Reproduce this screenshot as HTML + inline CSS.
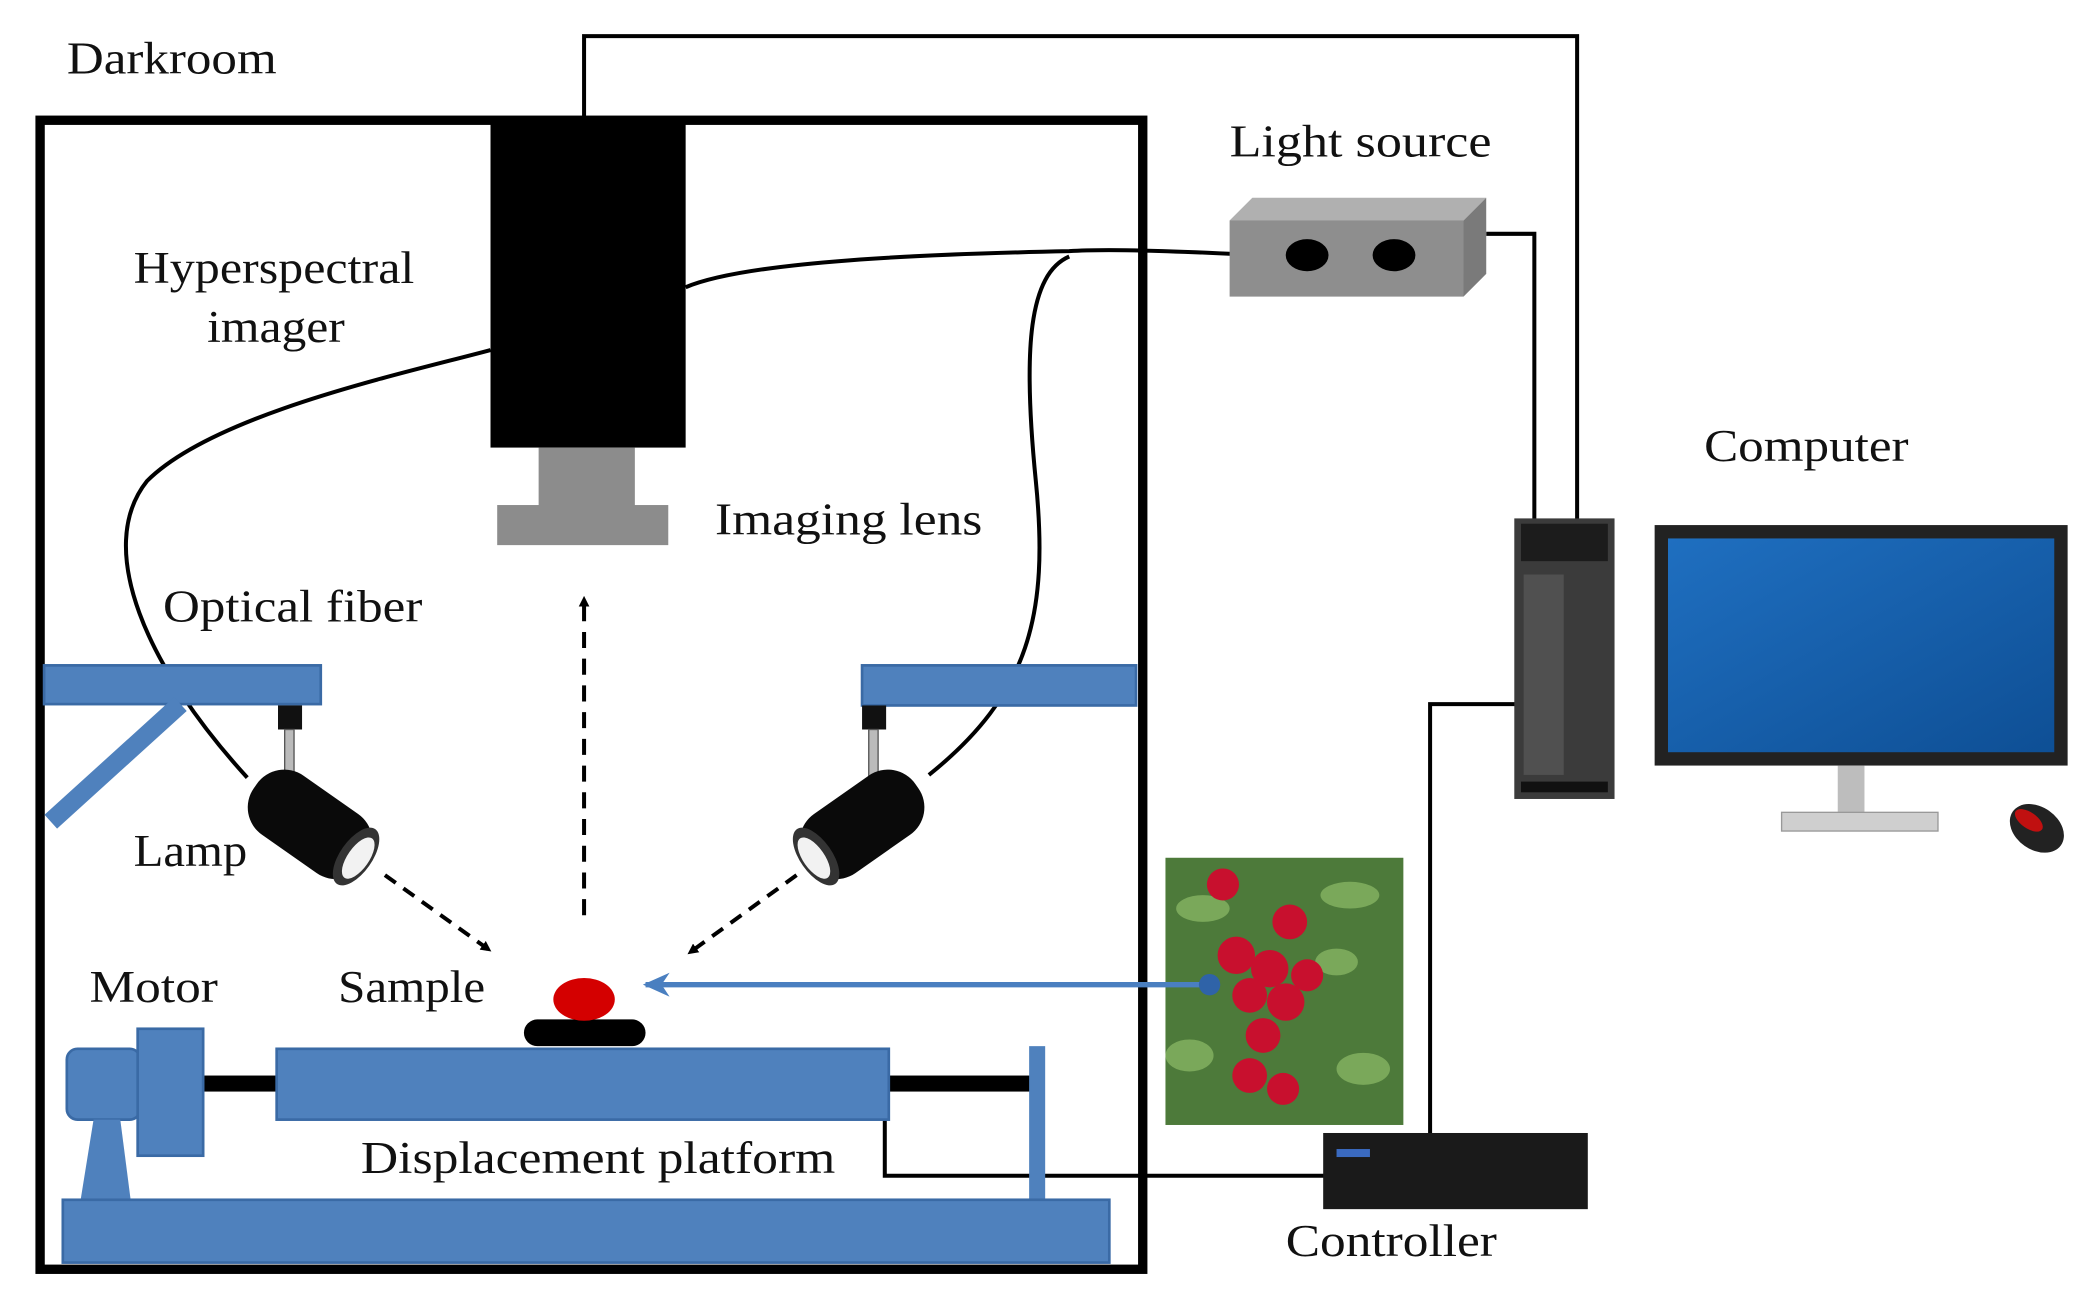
<!DOCTYPE html>
<html><head><meta charset="utf-8"><style>
html,body{margin:0;padding:0;background:#fff;}
svg{display:block;}
text{font-family:"Liberation Serif",serif;fill:#111;}
</style></head><body>
<svg width="2085" height="1300" viewBox="0 0 1560 973" preserveAspectRatio="none" xmlns="http://www.w3.org/2000/svg">
<defs>
<marker id="ah" markerWidth="8" markerHeight="8" refX="6" refY="4" orient="auto" markerUnits="userSpaceOnUse"><path d="M0,0 L8,4 L0,8 Z" fill="#000"/></marker>
<marker id="bh" markerWidth="22" markerHeight="18" refX="18" refY="9" orient="auto" markerUnits="userSpaceOnUse"><path d="M0,0 L20,9 L0,18 L6,9 Z" fill="#4a7fc0"/></marker>
<linearGradient id="scr" x1="0" y1="0" x2="1" y2="1"><stop offset="0" stop-color="#1f6fc0"/><stop offset="1" stop-color="#0e4f95"/></linearGradient>
</defs>
<rect width="1560" height="973" fill="#fff"/>
<text x="50" y="55" font-size="34" textLength="157" lengthAdjust="spacingAndGlyphs">Darkroom</text>
<rect x="30" y="90" width="825" height="860" fill="none" stroke="#000" stroke-width="7"/>
<path d="M437,90 V27 H1180 V390" fill="none" stroke="#000" stroke-width="3"/>
<path d="M1112,175 H1148 V390" fill="none" stroke="#000" stroke-width="3"/>
<path d="M1070,855 V527 H1135" fill="none" stroke="#000" stroke-width="3"/>
<path d="M662,838 V880 H992" fill="none" stroke="#000" stroke-width="3"/>
<path d="M922,190 C880,188 830,186 800,188 C700,190 560,195 513,215" fill="none" stroke="#000" stroke-width="3"/>
<path d="M367,262 C300,280 160,310 110,360 C70,410 110,500 185,582" fill="none" stroke="#000" stroke-width="3"/>
<path d="M800,192 C770,205 765,260 775,360 C785,460 770,520 695,580" fill="none" stroke="#000" stroke-width="3"/>
<rect x="367" y="88" width="146" height="247" fill="#000"/>
<rect x="403" y="335" width="72" height="45" fill="#8c8c8c"/>
<rect x="372" y="378" width="128" height="30" fill="#8c8c8c"/>
<polygon points="920,165 937,148 1112,148 1095,165" fill="#b0b0b0"/>
<polygon points="1095,165 1112,148 1112,205 1095,222" fill="#7a7a7a"/>
<rect x="920" y="165" width="175" height="57" fill="#8e8e8e"/>
<ellipse cx="978" cy="191" rx="16" ry="12" fill="#000"/>
<ellipse cx="1043" cy="191" rx="16" ry="12" fill="#000"/>
<text x="100" y="212" font-size="34" textLength="210" lengthAdjust="spacingAndGlyphs">Hyperspectral</text>
<text x="155" y="256" font-size="34" textLength="103" lengthAdjust="spacingAndGlyphs">imager</text>
<text x="535" y="400" font-size="34" textLength="200" lengthAdjust="spacingAndGlyphs">Imaging  lens</text>
<text x="122" y="465" font-size="34" textLength="194" lengthAdjust="spacingAndGlyphs">Optical fiber</text>
<text x="920" y="117" font-size="34" textLength="196" lengthAdjust="spacingAndGlyphs">Light  source</text>
<text x="1275" y="345" font-size="34" textLength="153" lengthAdjust="spacingAndGlyphs">Computer</text>
<text x="100" y="648" font-size="34" textLength="85" lengthAdjust="spacingAndGlyphs">Lamp</text>
<text x="67" y="750" font-size="34" textLength="96" lengthAdjust="spacingAndGlyphs">Motor</text>
<text x="253" y="750" font-size="34" textLength="110" lengthAdjust="spacingAndGlyphs">Sample</text>
<text x="270" y="878" font-size="34" textLength="355" lengthAdjust="spacingAndGlyphs">Displacement  platform</text>
<text x="962" y="940" font-size="34" textLength="158" lengthAdjust="spacingAndGlyphs">Controller</text>
<rect x="33" y="498" width="207" height="29" fill="#4f81bd" stroke="#3a6aa5" stroke-width="2"/>
<line x1="135" y1="527" x2="38" y2="615" stroke="#4f81bd" stroke-width="14"/>
<rect x="645" y="498" width="205" height="30" fill="#4f81bd" stroke="#3a6aa5" stroke-width="2"/>
<rect x="208" y="528" width="18" height="18" fill="#111"/>
<rect x="213" y="546" width="7" height="38" fill="#bbb" stroke="#555"/>
<rect x="645" y="528" width="18" height="18" fill="#111"/>
<rect x="650" y="546" width="7" height="38" fill="#bbb" stroke="#555"/>
<g transform="translate(232,617) rotate(35)">
<rect x="-50" y="-27" width="100" height="54" rx="25" fill="#0a0a0a"/>
<ellipse cx="42" cy="0" rx="12" ry="25" fill="#333"/>
<ellipse cx="44" cy="0" rx="8" ry="18" fill="#f2f2f2"/>
</g>
<g transform="translate(645,617) rotate(-35)">
<rect x="-50" y="-27" width="100" height="54" rx="25" fill="#0a0a0a"/>
<ellipse cx="-42" cy="0" rx="12" ry="25" fill="#333"/>
<ellipse cx="-44" cy="0" rx="8" ry="18" fill="#f2f2f2"/>
</g>
<line x1="288" y1="655" x2="366" y2="711" stroke="#000" stroke-width="3" stroke-dasharray="10,7" marker-end="url(#ah)"/>
<line x1="596" y1="655" x2="516" y2="713" stroke="#000" stroke-width="3" stroke-dasharray="10,7" marker-end="url(#ah)"/>
<line x1="437" y1="685" x2="437" y2="448" stroke="#000" stroke-width="3" stroke-dasharray="12,8" marker-end="url(#ah)"/>
<rect x="392" y="763" width="91" height="20" rx="10" fill="#000"/>
<ellipse cx="437" cy="748" rx="23" ry="16" fill="#d40000"/>
<rect x="150" y="805" width="625" height="12" fill="#000"/>
<rect x="207" y="785" width="458" height="53" fill="#4f81bd" stroke="#3a6aa5" stroke-width="2"/>
<rect x="770" y="783" width="12" height="117" fill="#4f81bd"/>
<rect x="50" y="785" width="55" height="53" rx="8" fill="#4f81bd" stroke="#3a6aa5" stroke-width="2"/>
<rect x="103" y="770" width="49" height="95" fill="#4f81bd" stroke="#3a6aa5" stroke-width="2"/>
<polygon points="70,838 90,838 98,900 60,900" fill="#4f81bd"/>
<rect x="47" y="898" width="783" height="47" fill="#4f81bd" stroke="#3a6aa5" stroke-width="2"/>
<rect x="872" y="642" width="178" height="200" fill="#4d7a3a"/>
<g fill="#7aa85a"><ellipse cx="900" cy="680" rx="20" ry="10"/><ellipse cx="1010" cy="670" rx="22" ry="10"/><ellipse cx="890" cy="790" rx="18" ry="12"/><ellipse cx="1020" cy="800" rx="20" ry="12"/><ellipse cx="1000" cy="720" rx="16" ry="10"/></g>
<g fill="#c8102e"><circle cx="915" cy="662" r="12"/><circle cx="965" cy="690" r="13"/><circle cx="925" cy="715" r="14"/><circle cx="950" cy="725" r="14"/><circle cx="978" cy="730" r="12"/><circle cx="935" cy="745" r="13"/><circle cx="962" cy="750" r="14"/><circle cx="945" cy="775" r="13"/><circle cx="935" cy="805" r="13"/><circle cx="960" cy="815" r="12"/></g>
<line x1="905" y1="737" x2="483" y2="737" stroke="#4a7fc0" stroke-width="4" marker-end="url(#bh)"/>
<circle cx="905" cy="737" r="8" fill="#2f63a8"/>
<rect x="990" y="848" width="198" height="57" fill="#1a1a1a"/>
<rect x="1000" y="860" width="25" height="6" fill="#3a6ac0"/>
<rect x="1133" y="388" width="75" height="210" fill="#3b3b3b"/>
<rect x="1138" y="392" width="65" height="28" fill="#1c1c1c"/>
<rect x="1140" y="430" width="30" height="150" fill="#505050"/>
<rect x="1138" y="585" width="65" height="8" fill="#111"/>
<rect x="1238" y="393" width="309" height="180" fill="#222"/>
<rect x="1248" y="403" width="289" height="160" fill="url(#scr)"/>
<rect x="1375" y="573" width="20" height="38" fill="#bdbdbd"/>
<rect x="1333" y="608" width="117" height="14" fill="#cfcfcf" stroke="#999"/>
<ellipse cx="1524" cy="620" rx="22" ry="16" transform="rotate(35 1524 620)" fill="#222"/>
<ellipse cx="1518" cy="614" rx="12" ry="6" transform="rotate(35 1518 614)" fill="#c01010"/>
</svg>
</body></html>
